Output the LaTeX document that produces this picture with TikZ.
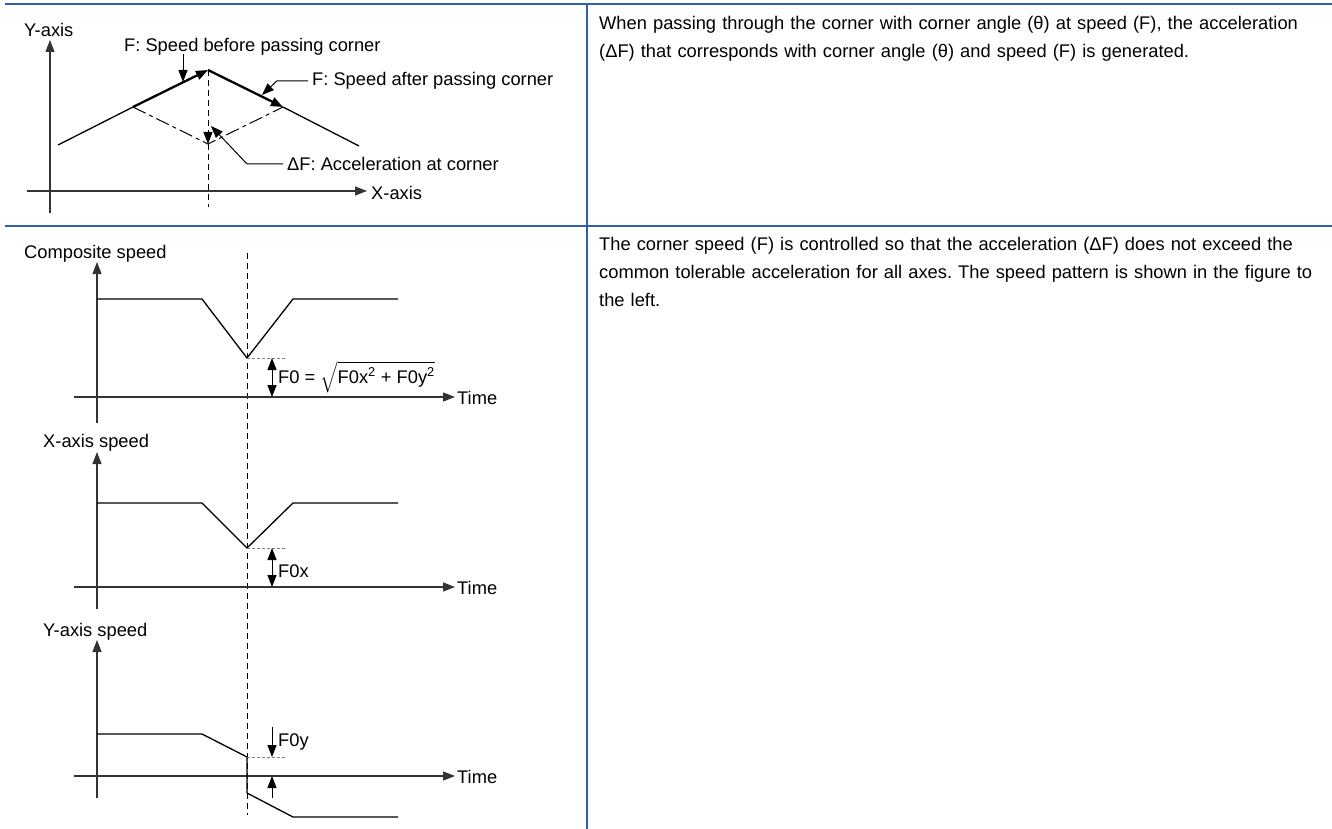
\RequirePackage{fix-cm}
\documentclass[tikz,border=0pt]{standalone}
\usepackage{amsmath}
\usepackage{fontspec}
\setmainfont{Liberation Sans}
\usepackage{xcolor}
\usepackage{tikz}
\usetikzlibrary{positioning, calc, arrows.meta}

\definecolor{rulecol}{RGB}{46,94,172}
\frenchspacing

\begin{document}
\begin{tikzpicture}[
      x=1pt, y=-1pt,
      font=\fontsize{18.3}{28}\selectfont,
      lbl/.style={anchor=base west, inner sep=0pt},
      para/.style={anchor=base west, inner sep=0pt, text width=720pt, align=left},
      ax/.style={line width=1.2pt, black!80, -{Triangle[length=12pt,width=9pt]}},
      trace/.style={line width=1.3pt, line join=miter},
      vec/.style={line width=2.3pt, -{Triangle[length=12pt,width=9pt]}},
      lead/.style={line width=1pt, -{Triangle[length=12pt,width=9pt]}},
      dimarr/.style={line width=1pt, {Triangle[length=12pt,width=9pt]}-{Triangle[length=12pt,width=9pt]}},
      guide/.style={line width=1pt, dash pattern=on 6pt off 4pt},
      floor/.style={line width=0.9pt, gray, dash pattern=on 3pt off 2pt},
      dashdot/.style={line width=1pt, dash pattern=on 14pt off 4pt on 4pt off 4pt},
      rulel/.style={rulecol, line width=2.4pt}
    ]
  \useasboundingbox (0,0) rectangle (1332,829);

  \draw[rulel] (5,4) -- (1332,4);
  \draw[rulel] (5,226) -- (1332,226);
  \draw[rulel] (587,4) -- (587,829);

  \node[para] (txt1) at (599,30) {When passing through the corner with corner angle (θ) at speed (F), the acceleration (ΔF) that corresponds with corner angle (θ) and speed (F) is generated.};
  \node[para] (txt2) at (599,250) {The corner speed (F) is controlled so that the acceleration (ΔF) does not exceed the common tolerable acceleration for all axes. The speed pattern is shown in the figure to the left.};

  \node[lbl] (yax) at (24,36.5) {Y-axis};
  \node[lbl] (xax) at (371,199.5) {X-axis};
  \coordinate (yb) at (50,213);
  \coordinate (yt) at (50,40);
  \coordinate (xl) at (27,191);
  \coordinate (xr) at (367,191);
  \draw[ax] (yb) -- (yt);
  \draw[ax] (xl) -- (xr);

  \coordinate (a0) at (58,145);
  \coordinate (a1) at (133,107);
  \coordinate (pk) at (208,70);
  \coordinate (a2) at (283,107);
  \coordinate (a3) at (359,146);
  \coordinate (lo) at (208,144);
  \coordinate (vb) at (208,207);
  \draw[trace] (a0) -- (a1) (a2) -- (a3);
  \draw[dashdot] (a1) -- (lo) -- (a2);
  \draw[vec] (a1) -- (pk);
  \draw[vec] (pk) -- (a2);
  \draw[guide, lead] (pk) -- (lo);
  \draw[guide] (lo) -- (vb);

  \node[lbl] (fb) at (124,51.5) {F: Speed before passing corner};
  \node[lbl] (fa) at (312,85.5) {F: Speed after passing corner};
  \node[lbl] (df) at (287,170.5) {ΔF: Acceleration at corner};
  \coordinate (fbt) at (183,82);
  \coordinate (fak) at (277,0);
  \coordinate (fat) at (262,95);
  \coordinate (dfk) at (247,0);
  \coordinate (dft) at (211,126);
  \draw[lead] ([yshift=1pt]fbt |- fb.south) -- (fbt);
  \draw[lead] ([xshift=-4pt]fa.west) -- (fa.west -| fak) -- (fat);
  \draw[lead] ([xshift=-4pt]df.west) -- (df.west -| dfk) -- (dft);

  \draw[guide] (247,253) -- (247,815);

  \node[lbl] (cs) at (24,258.5) {Composite speed};
  \node[lbl] (ct) at (457,404.5) {Time};
  \draw[ax] (97,423) -- (97,262);
  \draw[ax] (74,397) -- (455,397);
  \draw[trace] (97,299) -- (202,299) -- (247,358) -- (293,299) -- (398,299);
  \coordinate (cm) at (247,358);
  \coordinate (cd1) at (272,358);
  \coordinate (cd2) at (272,397);
  \draw[floor] (cm) -- ++(38,0);
  \draw[dimarr] (cd1) -- (cd2);
  \node[lbl] (f0) at (278,383.5) {F0 = $\sqrt{\mbox{\strut F0x\textsuperscript{2} + F0y\textsuperscript{2}}}$};

  \node[lbl] (xs) at (43,447.5) {X-axis speed};
  \node[lbl] (xt) at (457,594.5) {Time};
  \draw[ax] (97,609) -- (97,452);
  \draw[ax] (74,587) -- (455,587);
  \draw[trace] (97,503) -- (202,503) -- (247,548) -- (293,503) -- (398,503);
  \coordinate (xm) at (247,548);
  \coordinate (xd1) at (272,548);
  \coordinate (xd2) at (272,587);
  \draw[floor] (xm) -- ++(38,0);
  \draw[dimarr] (xd1) -- (xd2);
  \node[lbl] (f0x) at (278,577.5) {F0x};

  \node[lbl] (ys) at (43,636.5) {Y-axis speed};
  \node[lbl] (yt2) at (457,783.5) {Time};
  \draw[ax] (97,798) -- (97,640);
  \draw[ax] (74,776) -- (455,776);
  \draw[trace] (97,734) -- (202,734) -- (247,757) -- (247,793) -- (293,817) -- (398,817);
  \coordinate (ym) at (247,757);
  \coordinate (yd1) at (272,727);
  \coordinate (yd2) at (272,757);
  \coordinate (yd3) at (272,798);
  \coordinate (yd4) at (272,776);
  \draw[floor] (ym) -- ++(38,0);
  \draw[lead] (yd1) -- (yd2);
  \draw[lead] (yd3) -- (yd4);
  \node[lbl] (f0y) at (278,746.5) {F0y};
\end{tikzpicture}
\end{document}
